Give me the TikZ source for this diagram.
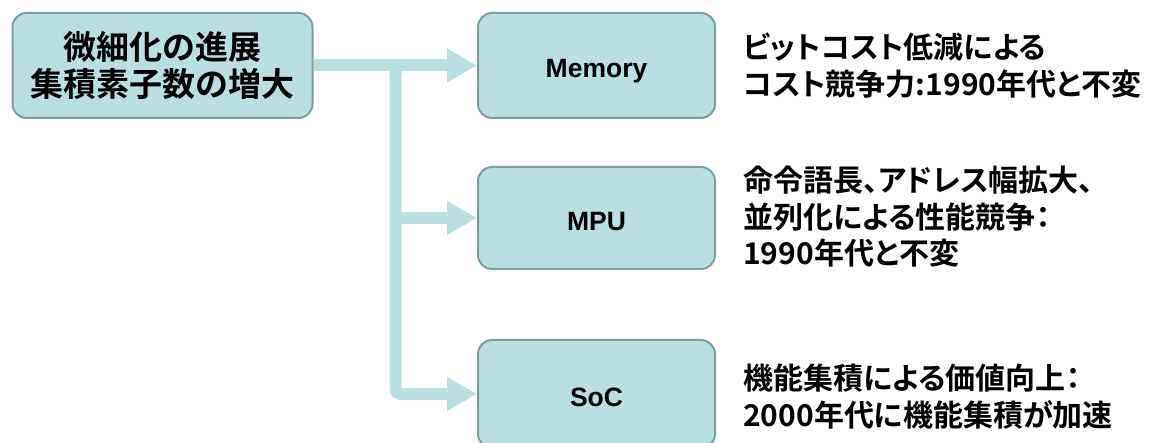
\documentclass[tikz,border=0pt]{standalone}
\usepackage{fontspec}
\usetikzlibrary{arrows.meta}
\newfontfamily\jp{Noto Sans CJK JP Bold}[RawFeature=+palt]
\newfontfamily\lat{Liberation Sans}
\definecolor{boxfill}{RGB}{185,223,227}
\definecolor{boxline}{RGB}{125,158,160}
\definecolor{connc}{RGB}{185,223,227}
\tikzset{
  box/.style={draw=boxline, line width=2pt, fill=boxfill, rounded corners=14pt, inner sep=0pt},
  conn/.style={draw=connc, line width=12pt},
  tip/.style={-{Triangle[length=30pt,width=32pt]}},
  note/.style={anchor=north west, align=left, inner sep=0pt, font=\jp\fontsize{30}{36.5}\selectfont},
  lbl/.style={font=\lat\bfseries\fontsize{26.5}{30}\selectfont, text height=25pt, text depth=0pt}
}
\begin{document}
\begin{tikzpicture}[x=1pt,y=-1pt]
\useasboundingbox (0,0) rectangle (1164,443);
% boxes
\node[box, minimum width=300pt, minimum height=105pt, align=center,
  font=\jp\fontsize{33}{37}\selectfont] (top) at (162.5,65.5) {微細化の進展\\集積素子数の増大};
\node[box, minimum width=237pt, minimum height=105pt, lbl] (mem) at (596.5,65.5) {Memory};
\node[box, minimum width=237pt, minimum height=102pt, lbl] (mpu) at (596.5,218) {MPU};
\node[box, minimum width=237pt, minimum height=108pt, lbl] (soc) at (596.5,394) {SoC};
% connectors
\coordinate (j) at (395.5,65.5);
\draw[conn, tip] (top.east) -- (mem.west);
\draw[conn, tip, rounded corners=5pt] (j) |- (soc.west);
\draw[conn, tip] (j |- mpu.west) -- (mpu.west);
% notes
\node[note] (n1) at (743,33) {ビットコスト低減による\\コスト競争力:1990年代と不変};
\node[note] (n2) at (743,166) {命令語長、アドレス幅拡大、\\並列化による性能競争：\\1990年代と不変};
\node[note] (n3) at (743,364) {機能集積による価値向上：\\2000年代に機能集積が加速};
\end{tikzpicture}
\end{document}
